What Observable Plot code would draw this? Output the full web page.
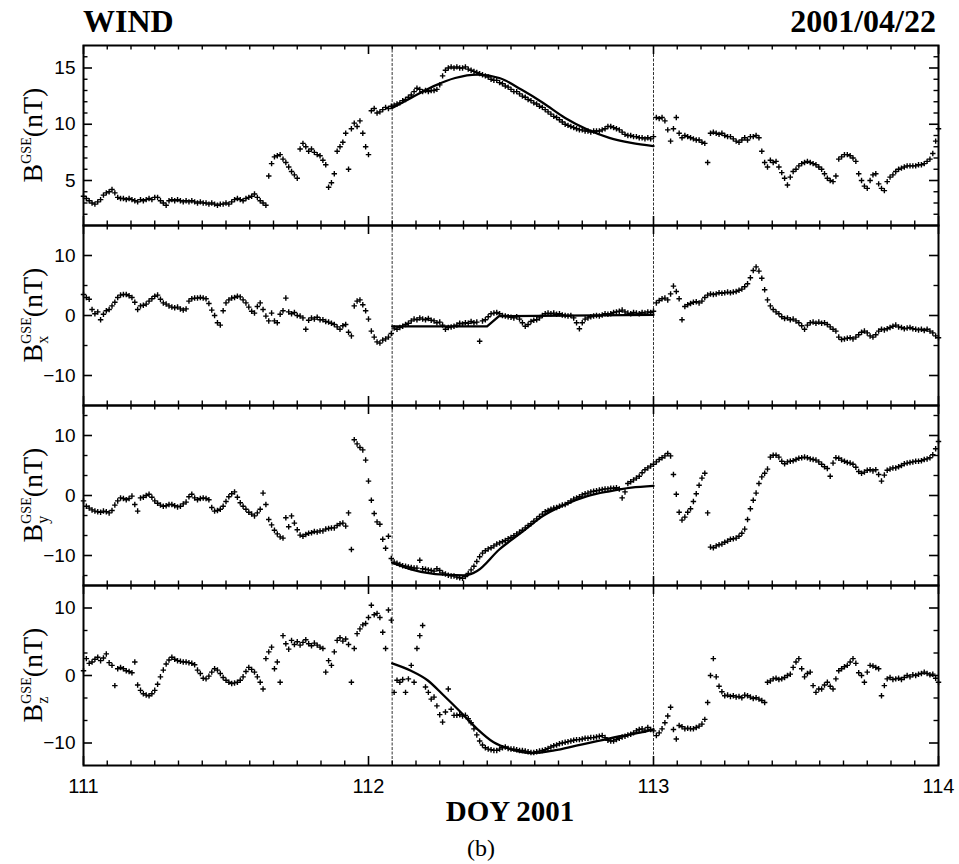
<!DOCTYPE html>
<html>
<head>
<meta charset="utf-8">
<script src="https://cdn.jsdelivr.net/npm/d3@7"></script>
<script src="https://cdn.jsdelivr.net/npm/@observablehq/plot@0.6"></script>
<style>
  body { margin: 0; background: #fff; }
  #chart { position: relative; width: 959px; height: 864px; overflow: hidden; background: #fff; }
  #chart svg { position: absolute; left: 0; }
</style>
</head>
<body>
<div id="chart"></div>
<script>
// WIND magnetic field (GSE), DOY 111-114 of 2001, one sample every 0.01 day
const doy = d3.range(301).map(k => 111 + k / 100);

const bMag = [
  3.6,3.4,3.2,3.0,2.9,3.1,3.3,3.7,3.9,4.0,
  4.2,3.9,3.5,3.4,3.4,3.3,3.4,3.3,3.2,3.1,
  3.3,3.2,3.3,3.4,3.3,3.5,3.5,3.2,3.0,2.8,
  3.2,3.3,3.2,3.3,3.2,3.1,3.2,3.1,3.2,3.1,
  3.0,3.1,3.0,3.0,2.9,3.0,2.9,2.8,2.9,2.9,
  3.0,2.9,3.1,3.3,3.4,3.3,3.2,3.4,3.5,3.6,
  3.8,3.5,3.2,3.0,2.8,5.4,6.5,7.1,7.2,7.3,
  6.9,6.6,6.2,5.8,5.5,5.2,7.8,8.3,8.0,7.6,
  7.8,7.5,7.3,7.2,6.8,6.4,4.4,4.8,5.6,7.6,
  8.0,8.4,9.2,6.0,9.6,10.1,9.8,10.3,9.2,8.0,
  7.3,11.2,11.4,11.0,11.1,11.3,11.5,11.4,11.6,11.7,
  11.8,11.9,12.1,12.2,12.4,12.6,12.9,13.2,13.1,12.9,
  13.0,12.9,13.0,13.0,13.1,13.5,14.3,14.8,15.0,15.1,
  15.0,15.1,15.0,15.0,15.1,14.9,14.8,14.7,14.6,14.5,
  14.4,14.3,14.2,14.0,13.9,13.9,13.7,13.6,13.4,13.3,
  13.1,12.9,12.9,12.7,12.5,12.4,12.2,12.1,11.9,11.8,
  11.6,11.5,11.3,11.1,10.9,10.7,10.6,10.4,10.2,10.0,
  9.9,9.8,9.7,9.6,9.5,9.5,9.4,9.4,9.3,9.4,
  9.4,9.4,9.5,9.6,9.8,9.8,9.7,9.6,9.5,9.3,
  9.1,9.0,9.0,8.9,8.9,8.8,8.8,8.7,8.8,8.7,
  8.9,10.6,10.5,10.6,10.3,9.5,8.5,9.6,10.6,9.2,
  8.8,9.0,8.9,8.8,8.7,8.6,8.6,8.4,8.3,6.6,
  9.2,9.3,9.2,9.1,9.2,9.0,8.9,8.9,8.7,8.5,
  8.4,8.6,8.8,8.6,8.9,8.9,9.0,8.8,7.6,6.6,
  6.2,6.8,6.6,6.7,6.2,5.7,5.2,4.6,5.3,5.8,
  6.0,6.3,6.5,6.6,6.7,6.6,6.5,6.4,6.2,6.0,
  5.6,5.2,5.0,4.9,5.4,6.9,7.1,7.3,7.3,7.2,
  7.0,6.7,5.6,5.0,4.5,4.3,5.0,5.5,5.6,4.7,
  4.3,4.1,4.9,5.3,5.5,5.8,6.0,6.1,6.2,6.3,
  6.3,6.3,6.3,6.4,6.4,6.5,6.7,6.9,7.4,8.5,
  9.6
];

const bx = [
  3.5,3.0,2.7,1.0,0.3,0.6,-0.7,0.2,0.8,1.0,
  1.6,2.2,3.0,3.4,3.5,3.5,3.3,3.0,2.2,1.0,
  1.6,1.7,1.9,2.4,2.8,3.2,3.4,2.7,2.1,1.9,
  1.6,1.4,1.3,1.4,1.1,0.9,1.1,2.4,2.8,2.9,
  2.9,3.0,2.9,2.8,2.0,0.9,0.0,-1.2,-1.6,0.8,
  2.1,2.6,2.9,3.0,3.2,3.1,2.6,2.1,1.4,0.7,
  0.4,1.5,2.1,1.0,-0.1,-0.9,0.4,-0.9,-1.2,0.2,
  0.8,2.9,0.6,0.3,0.5,0.0,-0.1,-0.4,-2.3,-0.8,
  -0.4,-0.6,-0.3,-0.7,-0.7,-1.0,-1.1,-1.3,-1.5,-1.9,
  -2.3,-1.7,-1.5,-2.8,-3.4,1.6,2.4,2.6,1.8,0.8,
  -0.6,-2.6,-3.6,-4.4,-4.6,-4.1,-3.9,-3.6,-3.0,-2.1,
  -2.3,-2.0,-1.8,-1.5,-1.3,-0.9,-0.6,-0.7,-0.4,-0.6,
  -0.7,-0.5,-0.8,-0.9,-1.2,-1.1,-1.6,-2.3,-2.0,-1.9,
  -1.8,-1.6,-1.3,-1.4,-1.2,-1.3,-1.0,-1.2,-1.1,-4.3,
  -0.9,-0.7,-0.2,0.3,0.4,0.5,0.3,0.0,-0.1,-0.2,
  -0.3,-0.4,-0.2,-0.6,-1.2,-1.8,-1.5,-1.0,-0.8,-0.7,
  -0.4,0.0,0.3,0.4,0.3,0.4,0.2,0.3,0.1,0.0,
  -0.1,0.0,-0.4,-1.2,-2.2,-1.2,-0.6,-0.4,-0.2,-0.1,
  0.0,-0.1,0.1,0.3,0.2,0.3,0.5,0.6,0.7,0.9,
  0.6,0.4,0.3,0.5,0.4,0.3,0.5,0.4,0.6,0.5,
  0.7,2.1,2.5,2.8,2.9,2.6,3.6,4.9,4.0,2.8,
  -0.7,1.5,1.8,2.0,2.2,2.3,2.1,2.4,3.0,3.4,
  3.6,3.5,3.6,3.8,3.7,3.8,3.9,3.8,3.9,4.0,
  4.2,4.4,4.8,5.3,6.3,7.5,8.1,7.4,6.2,4.3,
  2.6,1.6,1.0,0.6,0.3,-0.2,-0.5,-0.4,-0.7,-0.6,
  -0.9,-1.2,-1.7,-2.3,-1.6,-1.2,-1.1,-1.3,-1.1,-1.3,
  -1.2,-1.5,-1.9,-2.3,-2.6,-3.6,-4.0,-3.9,-3.8,-3.7,
  -3.9,-3.6,-3.2,-2.8,-2.6,-2.9,-3.4,-3.6,-3.2,-2.6,
  -2.3,-2.4,-2.2,-2.0,-1.8,-1.6,-1.9,-2.0,-2.2,-2.1,
  -2.0,-2.2,-2.3,-2.4,-2.3,-2.5,-2.3,-2.6,-2.9,-3.4,
  -3.7
];

const by = [
  -0.9,-1.8,-2.1,-2.4,-2.6,-2.7,-2.8,-2.6,-2.7,-2.9,
  -2.5,-1.6,-0.9,-0.4,-0.5,-0.7,-0.5,-0.1,-1.5,-2.6,
  -0.4,-0.3,0.0,0.2,-0.3,-0.9,-1.3,-1.6,-1.8,-1.7,
  -1.5,-1.5,-1.7,-1.9,-1.8,-1.4,-1.1,-0.2,0.2,-0.4,
  -0.7,-0.5,-0.4,-0.5,-0.7,-2.0,-2.6,-2.5,-2.3,-1.8,
  -1.0,-0.2,0.3,0.6,-0.3,-1.2,-1.8,-2.3,-2.8,-3.1,
  -3.4,-2.9,-2.3,0.4,-1.5,-4.0,-4.9,-5.8,-6.4,-6.9,
  -7.1,-3.7,-5.2,-3.4,-4.6,-5.7,-6.6,-6.8,-6.5,-6.3,
  -6.2,-6.0,-6.1,-5.9,-5.9,-5.6,-5.5,-5.4,-5.4,-5.0,
  -4.7,-4.6,-5.1,-2.9,-9.0,9.3,8.6,8.0,7.6,5.9,
  2.4,-0.8,-3.0,-4.4,-4.8,-7.3,-8.8,-6.8,-10.5,-11.1,
  -11.3,-11.5,-11.7,-11.8,-11.9,-12.0,-12.1,-12.1,-10.8,-12.2,
  -12.3,-12.4,-12.5,-12.6,-12.2,-12.5,-12.9,-13.1,-13.3,-13.4,
  -13.4,-13.6,-13.7,-13.8,-13.5,-13.0,-12.4,-11.8,-11.0,-10.2,
  -9.6,-9.2,-8.9,-8.7,-8.4,-8.1,-7.9,-7.7,-7.5,-7.2,
  -7.0,-6.7,-6.4,-6.1,-5.8,-5.4,-5.0,-4.7,-4.3,-3.9,
  -3.5,-3.1,-2.7,-2.5,-2.3,-2.1,-2.0,-1.8,-1.6,-1.5,
  -1.2,-0.9,-0.6,-0.4,-0.2,0.1,0.3,0.4,0.6,0.7,
  0.8,0.9,1.0,1.1,1.1,1.2,1.2,1.3,1.1,-0.4,
  0.6,2.0,2.3,2.6,2.9,3.2,3.8,4.3,4.6,4.9,
  5.2,5.6,6.0,6.3,6.6,7.0,6.6,3.5,0.2,-2.8,
  -4.1,-3.6,-2.8,-2.2,-1.0,0.3,1.7,2.9,3.7,-2.9,
  -8.6,-8.7,-8.4,-8.2,-8.1,-7.8,-7.6,-7.3,-7.2,-7.1,
  -6.8,-6.3,-5.6,-4.0,-2.2,-0.8,0.4,2.0,3.1,3.7,
  4.4,6.4,6.7,6.7,6.4,5.7,5.3,5.6,5.7,5.8,
  6.0,6.2,6.3,6.4,6.3,6.1,6.0,5.9,5.6,5.2,
  4.8,4.5,3.2,5.4,6.3,6.2,5.9,5.7,5.5,5.4,
  5.2,4.7,4.0,3.7,3.9,4.2,4.3,4.1,4.3,3.5,
  2.4,3.4,4.2,4.4,4.6,4.6,4.8,5.0,5.3,5.4,
  5.5,5.6,5.7,5.7,5.8,6.0,6.1,6.3,6.8,7.8,
  9.0
];

const bz = [
  0.7,2.5,1.8,2.0,2.4,2.7,2.2,2.6,3.2,1.9,
  1.5,-1.5,1.0,1.2,1.0,0.7,0.6,0.4,2.0,-1.4,
  -2.2,-2.7,-2.9,-3.0,-2.7,-2.2,-1.3,-0.2,0.8,1.7,
  2.3,2.7,2.4,2.2,2.1,2.0,2.0,1.9,1.8,1.6,
  0.8,0.3,-0.4,-0.5,-0.1,0.5,1.0,0.8,0.3,-0.3,
  -0.7,-1.0,-1.2,-1.1,-1.0,-0.7,-0.2,0.6,1.2,0.9,
  0.5,-0.2,-1.0,-2.0,2.5,3.5,4.2,1.0,2.0,-1.0,
  5.9,4.7,3.9,5.2,4.6,5.0,4.5,4.9,5.3,4.7,
  4.4,4.8,4.5,4.2,4.0,0.5,2.2,1.5,3.5,5.2,
  5.6,5.1,5.4,4.6,-1.0,4.0,6.2,6.9,7.5,7.7,
  8.6,10.4,9.0,9.2,8.6,6.4,4.0,9.7,8.2,-2.5,
  -0.7,-1.0,-0.6,-2.5,-0.5,1.5,-1.0,4.0,5.9,7.4,
  -1.7,-2.5,-3.5,-3.2,-4.5,-5.8,-6.9,-5.4,-2.0,-5.0,
  -5.9,-5.9,-5.8,-6.0,-5.9,-6.4,-7.0,-7.9,-8.8,-9.7,
  -10.3,-10.7,-10.9,-11.0,-11.1,-11.1,-10.9,-10.7,-10.6,-10.8,
  -10.9,-10.9,-11.0,-11.1,-11.1,-11.2,-11.3,-11.4,-11.4,-11.3,
  -11.2,-11.1,-11.0,-10.8,-10.6,-10.4,-10.3,-10.1,-10.0,-9.9,
  -9.8,-9.7,-9.6,-9.5,-9.5,-9.4,-9.3,-9.3,-9.2,-9.2,
  -9.1,-9.0,-8.9,-9.2,-9.6,-9.7,-9.7,-9.5,-9.3,-9.1,
  -9.0,-8.8,-8.7,-8.5,-8.2,-8.0,-7.9,-8.1,-7.7,-8.0,
  -8.2,-8.9,-8.5,-7.9,-7.0,-6.0,-4.7,-8.0,-9.4,-7.4,
  -7.6,-7.9,-7.8,-7.9,-7.9,-7.7,-7.5,-7.2,-6.5,-4.0,
  0.0,2.5,-0.2,-1.6,-2.4,-3.0,-2.9,-3.1,-3.0,-3.2,
  -3.1,-3.3,-2.9,-3.0,-3.2,-3.4,-3.3,-3.5,-3.7,-4.0,
  -1.0,-0.8,-0.5,-0.4,-0.6,-0.5,-0.3,0.0,0.2,1.2,
  2.0,2.5,1.0,-0.2,0.3,0.5,-1.5,-2.5,-2.0,-2.0,
  -1.4,-1.0,-1.6,-2.0,-0.5,0.7,1.0,1.3,1.5,2.0,
  2.5,1.8,0.4,0.0,-1.0,0.5,1.5,1.4,1.2,1.0,
  -3.0,-1.5,-0.5,-0.3,-0.6,-0.5,-0.4,-0.6,-0.3,0.0,
  -0.2,0.1,0.0,0.2,0.3,0.5,0.3,0.1,0.2,-0.4,
  -1.0
];

// Flux-rope model fits inside the magnetic cloud interval
const fitMagT = [112.083,112.149,112.227,112.304,112.381,112.459,112.536,112.613,112.690,112.768,112.845,112.922,113.0];
const fitMagV = [11.45,12.34,13.37,14.11,14.41,14.11,13.08,11.89,10.56,9.53,8.79,8.34,8.05];
const fitBxT = [112.083,112.416,112.458,113.0];
const fitBxV = [-1.8,-1.8,-0.1,0.1];
const fitByT = [112.083,112.149,112.265,112.342,112.381,112.459,112.536,112.613,112.690,112.768,112.845,112.922,113.0];
const fitByV = [-11.2,-12.3,-13.2,-13.3,-12.6,-9.0,-6.2,-3.4,-1.5,-0.1,0.7,1.3,1.6];
const fitBzT = [112.083,112.149,112.207,112.265,112.323,112.381,112.439,112.497,112.575,112.652,112.729,112.806,112.884,112.961,113.0];
const fitBzV = [1.8,0.7,-0.7,-3.0,-5.4,-7.9,-9.9,-10.9,-11.5,-11.1,-10.4,-9.7,-9.0,-8.4,-8.0];

// Cloud boundaries
const boundaries = [112.083, 113.0];

// Axis ticks
const dayTicks = [111, 112, 113, 114];
const hourTicks = d3.range(37).map(i => 111 + i / 12).filter(d => Math.abs(d - Math.round(d)) > 1e-6);

const panels = [
  {values: bMag, fitT: fitMagT, fitV: fitMagV, domain: [1, 17], labels: [5, 10, 15],
   minor: [2,3,4,6,7,8,9,11,12,13,14,16], sub: null, curve: "monotone-x"},
  {values: bx, fitT: fitBxT, fitV: fitBxV, domain: [-15, 15], labels: [-10, 0, 10],
   minor: [-5, 5], sub: "x", curve: "linear"},
  {values: by, fitT: fitByT, fitV: fitByV, domain: [-15, 15], labels: [-10, 0, 10],
   minor: [-40/3, -20/3, -10/3, 10/3, 20/3, 40/3], sub: "y", curve: "monotone-x"},
  {values: bz, fitT: fitBzT, fitV: fitBzV, domain: [-40/3, 40/3], labels: [-10, 0, 10],
   minor: [-20/3, -10/3, 10/3, 20/3], sub: "z", curve: "monotone-x"}
];

const sans = "'Liberation Sans', Arial, Helvetica, sans-serif";
const serif = "'Liberation Serif', 'Times New Roman', Times, serif";
const W = 959, ML = 83, MR = 21, PH = 180, innerW = W - ML - MR;
const tops = [45, 225, 405, 585];
const chart = document.getElementById("chart");

panels.forEach((p, i) => {
  const last = i === panels.length - 1;
  const mt = 10, mb = last ? 40 : 10;
  const rows = doy.map((t, k) => ({t, v: p.values[k]}));
  const fit = p.fitT.map((t, k) => ({t, v: p.fitV[k]}));
  const marks = [
    Plot.ruleX(boundaries, {stroke: "#333", strokeWidth: 1, strokeDasharray: "3,1.5"}),
    // inward ticks on all four sides
    Plot.tickX(hourTicks, {x: d => d, insetBottom: PH - 4.5, strokeWidth: 1.4}),
    Plot.tickX(hourTicks, {x: d => d, insetTop: PH - 4.5, strokeWidth: 1.4}),
    Plot.tickX(dayTicks, {x: d => d, insetBottom: PH - 9, strokeWidth: 1.6}),
    Plot.tickX(dayTicks, {x: d => d, insetTop: PH - 9, strokeWidth: 1.6}),
    Plot.tickY(p.minor, {y: d => d, insetRight: innerW - 4.5, strokeWidth: 1.4}),
    Plot.tickY(p.minor, {y: d => d, insetLeft: innerW - 4.5, strokeWidth: 1.4}),
    Plot.tickY(p.labels, {y: d => d, insetRight: innerW - 9, strokeWidth: 1.6}),
    Plot.tickY(p.labels, {y: d => d, insetLeft: innerW - 9, strokeWidth: 1.6}),
    Plot.dot(rows, {x: "t", y: "v", symbol: "plus", r: 1.9, stroke: "black", strokeWidth: 1.4}),
    Plot.line(fit, {x: "t", y: "v", stroke: "black", strokeWidth: 2.3, curve: p.curve}),
    Plot.frame({stroke: "black", strokeWidth: 2}),
    Plot.axisY({ticks: p.labels, tickSize: 0, tickPadding: 8, fontSize: 19, label: null})
  ];
  if (last) {
    marks.push(Plot.axisX({ticks: dayTicks, tickSize: 0, tickPadding: 13, fontSize: 20, label: null, tickFormat: d => String(d)}));
  }
  const svg = Plot.plot({
    width: W,
    height: PH + mt + mb,
    marginLeft: ML, marginRight: MR, marginTop: mt, marginBottom: mb,
    x: {domain: [111, 114], ...(last ? {} : {axis: null})},
    y: {domain: p.domain},
    style: {background: "none", overflow: "visible", fontFamily: sans, color: "black"},
    marks
  });
  svg.style.top = (tops[i] - mt) + "px";
  chart.appendChild(svg);

  // y-axis title: B with GSE superscript, component subscript, then (nT)
  const cy = mt + PH / 2;
  const label = d3.select(svg).append("text")
    .attr("transform", `translate(42,${cy}) rotate(-90)`)
    .attr("text-anchor", "middle")
    .attr("font-family", serif)
    .attr("font-size", 28)
    .attr("fill", "black");
  label.append("tspan").text("B");
  if (p.sub) {
    const s = label.append("tspan").attr("font-size", 16).attr("dy", 6).text(p.sub);
    const w = s.node().getComputedTextLength();
    label.append("tspan").attr("font-size", 14).attr("dx", -w).attr("dy", -17).text("GSE");
    label.append("tspan").attr("dy", 11).text("(nT)");
  } else {
    label.append("tspan").attr("font-size", 14).attr("dy", -11).text("GSE");
    label.append("tspan").attr("dy", 11).text("(nT)");
  }
});

// Titles and axis caption
const overlay = d3.create("svg")
  .attr("width", W).attr("height", 864)
  .style("top", "0px").style("pointer-events", "none");
overlay.append("text").attr("x", 83).attr("y", 32)
  .attr("font-family", serif).attr("font-weight", "bold").attr("font-size", 32)
  .text("WIND");
overlay.append("text").attr("x", 936).attr("y", 32).attr("text-anchor", "end")
  .attr("font-family", serif).attr("font-weight", "bold").attr("font-size", 32)
  .text("2001/04/22");
overlay.append("text").attr("x", 510).attr("y", 821).attr("text-anchor", "middle")
  .attr("font-family", serif).attr("font-weight", "bold").attr("font-size", 29)
  .text("DOY 2001");
overlay.append("text").attr("x", 481).attr("y", 856).attr("text-anchor", "middle")
  .attr("font-family", serif).attr("font-size", 24)
  .text("(b)");
chart.appendChild(overlay.node());
</script>
</body>
</html>
